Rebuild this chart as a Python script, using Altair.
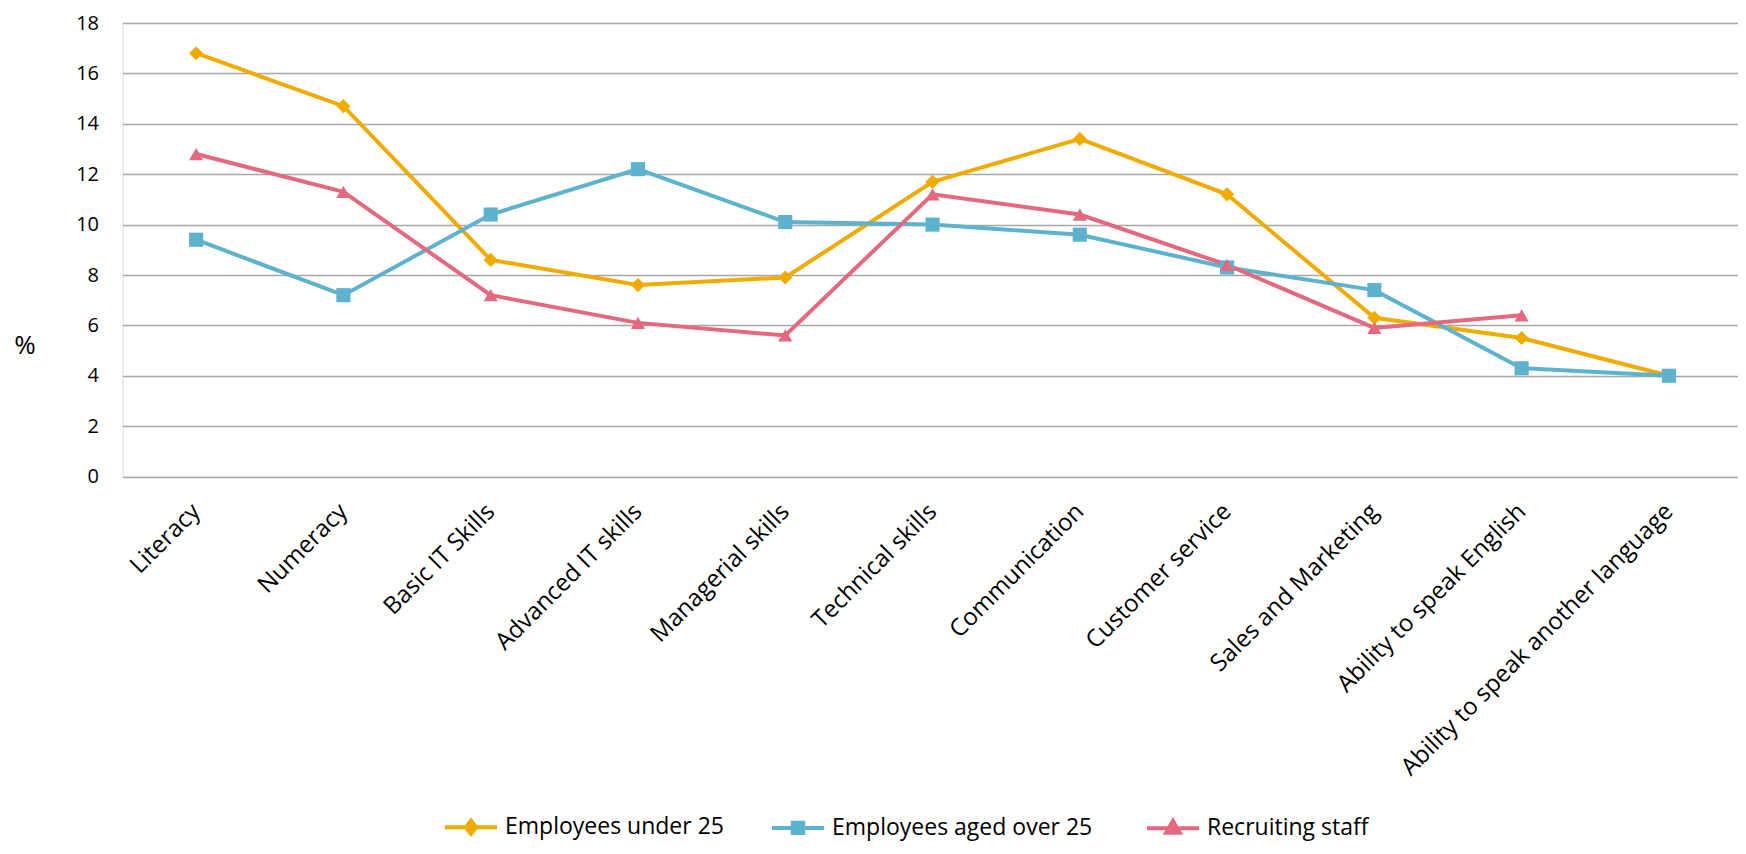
import altair as alt
import pandas as pd

categories = [
    "Literacy", "Numeracy", "Basic IT Skills", "Advanced IT skills",
    "Managerial skills", "Technical skills", "Communication",
    "Customer service", "Sales and Marketing", "Ability to speak English",
    "Ability to speak another language",
]
series_names = ["Employees under 25", "Employees  aged over 25", "Recruiting staff"]
under25 = [16.8, 14.7, 8.6, 7.6, 7.9, 11.7, 13.4, 11.2, 6.3, 5.5, 4.0]
over25 = [9.4, 7.2, 10.4, 12.2, 10.1, 10.0, 9.6, 8.3, 7.4, 4.3, 4.0]
recruiting = [12.8, 11.3, 7.2, 6.1, 5.6, 11.2, 10.4, 8.4, 5.9, 6.4, None]
y_ticks = [0, 2, 4, 6, 8, 10, 12, 14, 16, 18]

colors = ["#F0AB00", "#5DB3CE", "#E5697E"]
marker_shapes = ["diamond", "square", "triangle-up"]
legend_paths = [
    "M-1,0L1,0M0,-0.25L0.2,0L0,0.25L-0.2,0Z",
    "M-1,0L1,0M-0.2,-0.2L0.2,-0.2L0.2,0.2L-0.2,0.2Z",
    "M-1,0L1,0M0,-0.28L0.26,0.18L-0.26,0.18Z",
]
FONT = "Open Sans"

rows = []
for name, vals in zip(series_names, [under25, over25, recruiting]):
    for cat, v in zip(categories, vals):
        if v is not None:
            rows.append({"series": name, "category": cat, "value": v})
df = pd.DataFrame(rows)

leg = alt.Legend(title=None, orient="none", direction="horizontal", legendX=320.5, legendY=776,
                 symbolSize=2704, symbolStrokeWidth=4, symbolOpacity=1, labelFontSize=23,
                 labelFont=FONT, labelColor="#000000", labelOffset=6, columnPadding=40,
                 labelLimit=500, padding=0)

x_enc = alt.X(
    "category:N", sort=categories,
    scale=alt.Scale(type="point", padding=0.4845, align=0.516),
    axis=alt.Axis(title=None, labelAngle=-45, ticks=False, domain=False, grid=False,
                  labelPadding=31, labelFontSize=24, labelFont=FONT, labelColor="#000000",
                  labelAlign="right", labelBaseline="middle", labelLimit=600),
)
y_enc = alt.Y(
    "value:Q",
    scale=alt.Scale(domain=[0, 18], nice=False),
    axis=alt.Axis(values=y_ticks, title="%", titleAngle=0, titleX=-98, titleY=322,
                  titleAlign="center", titleBaseline="middle", titleFontWeight="normal",
                  titleFontSize=26, titleFont=FONT, titleColor="#000000",
                  grid=True, gridColor="#A6A6A6", gridWidth=1.5, ticks=False, domain=False,
                  labelPadding=24, labelFontSize=20, labelFont=FONT, labelColor="#000000"),
)
color_enc = alt.Color("series:N", scale=alt.Scale(domain=series_names, range=colors), legend=leg)

base = alt.Chart(df)
lines = base.mark_line(strokeWidth=4).encode(x=x_enc, y=y_enc, color=color_enc, detail="series:N")

point_layers = []
for name, shp in zip(series_names, marker_shapes):
    point_layers.append(
        base.transform_filter(alt.datum.series == name)
        .mark_point(filled=True, shape=shp, size=200, opacity=1)
        .encode(x=x_enc, y=y_enc, color=color_enc)
    )

# legend-only layer (no marks drawn): supplies line+marker legend symbols
legend_layer = base.transform_filter(alt.datum.value < -1000).mark_point(filled=True).encode(
    x=x_enc, y=y_enc,
    fill=alt.Fill("series:N", scale=alt.Scale(domain=series_names, range=colors), legend=leg),
    shape=alt.Shape("series:N", scale=alt.Scale(domain=series_names, range=legend_paths), legend=leg),
)

chart = alt.layer(lines, *point_layers, legend_layer).properties(
    width=1615.5, height=453.6,
    autosize=alt.AutoSizeParams(type="none"),
    padding={"left": 114.5, "top": 15, "right": 0, "bottom": 369.4},
).configure_view(stroke=None).configure(font=FONT, background="white")

chart.save("out.html", embed_options={"renderer": "svg", "actions": False})
